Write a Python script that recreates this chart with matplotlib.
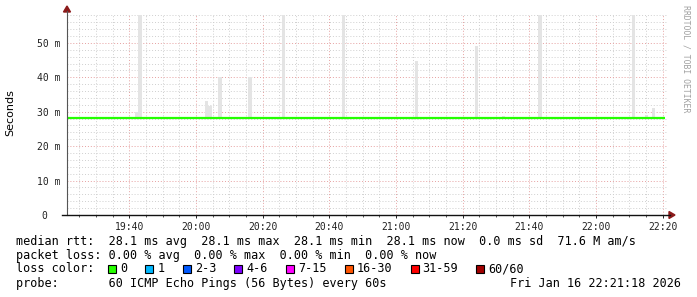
import matplotlib
matplotlib.use('Agg')
import matplotlib.pyplot as plt
from matplotlib.lines import Line2D
from matplotlib.patches import Rectangle, Polygon

# time axis: minutes after 19:00
t_start, t_end = 21.3, 201.3
tick_minutes = [40, 60, 80, 100, 120, 140, 160, 180, 200]
tick_labels = ['19:40', '20:00', '20:20', '20:40', '21:00', '21:20', '21:40', '22:00', '22:20']
y_ticks = [0, 10, 20, 30, 40, 50]
y_labels = ['0  ', '10 m', '20 m', '30 m', '40 m', '50 m']

median_ms = 28.1
smoke_min = 28.0
smoke_time = [41.7, 42.7, 62.7, 63.7, 66.7, 75.7, 85.7, 103.7, 125.7, 143.7,
              151.7, 162.7, 190.7, 194.7, 196.7]
smoke_max = [30.0, 60.0, 33.0, 31.7, 40.0, 40.0, 60.0, 60.0, 44.6, 49.2,
             28.8, 60.0, 60.0, 29.0, 31.2]

rtt_text = 'median rtt:  28.1 ms avg  28.1 ms max  28.1 ms min  28.1 ms now  0.0 ms sd  71.6 M am/s'
loss_text = 'packet loss: 0.00 % avg  0.00 % max  0.00 % min  0.00 % now'
loss_labels = ['0', '1', '2-3', '4-6', '7-15', '16-30', '31-59', '60/60']
loss_colors = ['#26ff00', '#00b8ff', '#0059ff', '#7e00ff', '#ff00ff',
               '#ff5500', '#ff0000', '#a10000']
probe_text = 'probe:       60 ICMP Echo Pings (56 Bytes) every 60s'
date_text = 'Fri Jan 16 22:21:18 2026'

W, H = 697, 297
MONO = 'DejaVu Sans Mono'
FS = 8.5
CHAR_W = 0.602 * FS * 100 / 72  # px per monospace char


def fx(x):
    return x / W


def fy(y):
    return 1 - y / H


fig = plt.figure(figsize=(W / 100, H / 100), dpi=100)
fig.patch.set_facecolor('white')
ax = fig.add_axes([fx(67), fy(215), 600 / W, 200 / H])
ax.set_xlim(t_start, t_end)
ax.set_ylim(0, 58.1)

# smoke
ax.bar(smoke_time, [m - smoke_min for m in smoke_max], bottom=smoke_min,
       width=1.0, align='edge', color='#e4e4e4', linewidth=0, zorder=2)
# median line
ax.plot([t_start, t_end - 0.6], [median_ms, median_ms], color='#26ff00',
        linewidth=1.6, solid_capstyle='butt', zorder=3)

ax.set_xticks(tick_minutes)
ax.set_xticklabels(tick_labels, fontfamily=MONO, fontsize=7)
ax.set_xticks(list(range(25, 201, 5)), minor=True)
ax.set_yticks(y_ticks)
ax.set_yticklabels(y_labels, fontfamily=MONO, fontsize=7)
ax.set_yticks(list(range(0, 59, 2)), minor=True)
ax.grid(which='minor', color='#cfcfcf', linestyle=(0, (1, 2)), linewidth=0.7, zorder=1)
ax.grid(which='major', color='#e6a0a0', linestyle=(0, (1, 2)), linewidth=0.7, zorder=1)
ax.set_axisbelow(True)
ax.tick_params(axis='x', which='major', length=2, width=0.7, direction='out', pad=3, colors='#222222')
ax.tick_params(axis='x', which='minor', length=1.5, width=0.7, direction='out', color='#555555')
ax.tick_params(axis='y', which='both', length=0, pad=5, colors='#222222')
for s in ax.spines.values():
    s.set_visible(False)

# axes lines and arrows
fig.add_artist(Line2D([fx(67), fx(67)], [fy(215), fy(11)], color='#555555', linewidth=0.8))
fig.add_artist(Line2D([fx(62), fx(670)], [fy(215), fy(215)], color='#111111', linewidth=1.0))
fig.add_artist(Polygon([(fx(63.5), fy(12)), (fx(70.5), fy(12)), (fx(67), fy(6))],
                       closed=True, color='#8b1a1a', transform=fig.transFigure))
fig.add_artist(Polygon([(fx(669), fy(211.5)), (fx(669), fy(218.5)), (fx(675), fy(215))],
                       closed=True, color='#8b1a1a', transform=fig.transFigure))

fig.text(fx(10), fy(113), 'Seconds', rotation=90, ha='center', va='center',
         fontsize=8, family='DejaVu Sans')
fig.text(fx(686), fy(5), 'RRDTOOL / TOBI OETIKER', rotation=270, ha='center', va='top',
         fontsize=5.9, family=MONO, color='#a0a0a0')

# legend text
fig.text(fx(16), fy(241), rtt_text, family=MONO, fontsize=FS, va='center', ha='left')
fig.text(fx(16), fy(255), loss_text, family=MONO, fontsize=FS, va='center', ha='left')
fig.text(fx(16), fy(269), 'loss color:', family=MONO, fontsize=FS, va='center', ha='left')
x = 108
for lab, c in zip(loss_labels, loss_colors):
    fig.add_artist(Rectangle((fx(x), fy(273)), 8 / W, 8 / H, facecolor=c,
                             edgecolor='black', linewidth=0.8, transform=fig.transFigure))
    fig.text(fx(x + 12), fy(269), lab, family=MONO, fontsize=FS, va='center', ha='left')
    x += 12 + len(lab) * CHAR_W + 18.3
fig.text(fx(16), fy(283.5), probe_text, family=MONO, fontsize=FS, va='center', ha='left')
fig.text(fx(681), fy(283.5), date_text, family=MONO, fontsize=FS, va='center', ha='right')

fig.savefig('out.png', dpi=100, facecolor='white')
